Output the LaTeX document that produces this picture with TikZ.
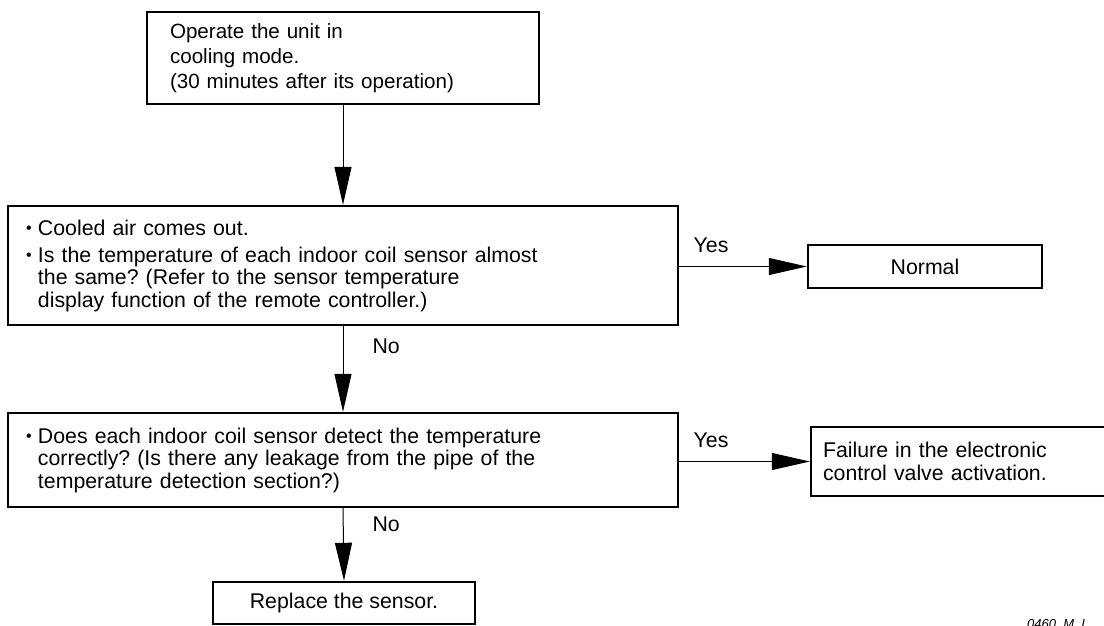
\documentclass[tikz,border=0pt]{standalone}
\usepackage{fontspec}
\setmainfont{Liberation Sans}
\usetikzlibrary{arrows.meta}
\newcommand{\bodyfont}{\fontsize{21.3}{22.5}\selectfont\frenchspacing}
\tikzset{
  box/.style={draw, line width=2.4pt, inner sep=0pt, inner xsep=#1, align=left, font=\bodyfont},
  box/.default=18pt,
  cbox/.style={draw, line width=2.4pt, inner sep=0pt, align=center, font=\bodyfont},
  conn/.style={line width=1pt, -{Triangle[length=38pt,width=17pt]}},
  lbl/.style={font=\bodyfont, inner sep=0pt, anchor=base west},
}
\newcommand{\bul}{\makebox[12pt][l]{\raisebox{1.5pt}{\fontsize{16}{16}\selectfont•}}}
\newcommand{\ind}{\hspace*{12pt}}
\begin{document}
\begin{tikzpicture}[x=1pt,y=-1pt]
\useasboundingbox (0,0) rectangle (1104,625);

\node[box=23pt, text width=346pt, minimum height=92pt, font=\fontsize{20.6}{25}\selectfont\frenchspacing] (b1) at (343,58)
  {Operate the unit in\\cooling mode.\\(30 minutes after its operation)};

\node[box=18pt, text width=634pt, minimum height=119pt] (b2) at (343,265.5)
  {\bul Cooled air comes out.\\[4.5pt]
   \bul Is the temperature of each indoor coil sensor almost\\
   \ind the same? (Refer to the sensor temperature\\
   \ind display function of the remote controller.)};

\node[cbox, minimum width=234pt, minimum height=43pt] (norm) at (925,266.5) {Normal};

\node[box=18pt, text width=634pt, minimum height=94pt] (b3) at (343,460)
  {\bul Does each indoor coil sensor detect the temperature\\
   \ind correctly? (Is there any leakage from the pipe of the\\
   \ind temperature detection section?)};

\node[box=12pt, text width=276pt, minimum height=69pt] (fail) at (961,461.5)
  {Failure in the electronic\\control valve activation.};

\node[cbox, minimum width=262pt, minimum height=42pt] (b4) at (344,603) {Replace the sensor.};

\draw[conn] (b1.south) -- (b2.north);
\draw[conn] (b2.south) -- node[lbl, pos=0, xshift=29pt, yshift=-27pt] (no1) {No} (b3.north);
\draw[conn] (b3.south) -- node[lbl, pos=0, xshift=29pt, yshift=-23pt] (no2) {No} (b4.north);
\draw[conn] (b2.east |- norm.west) -- node[lbl, pos=0, xshift=14pt, yshift=14pt] (yes1) {Yes} (norm.west);
\draw[conn] (b3.east |- fail.west) -- node[lbl, pos=0, xshift=14pt, yshift=14pt] (yes2) {Yes} (fail.west);

\node[anchor=north west, inner sep=0pt, font=\fontsize{13}{13}\selectfont\itshape] (code) at (1027,619) {0460\_M\_I};
\end{tikzpicture}
\end{document}
